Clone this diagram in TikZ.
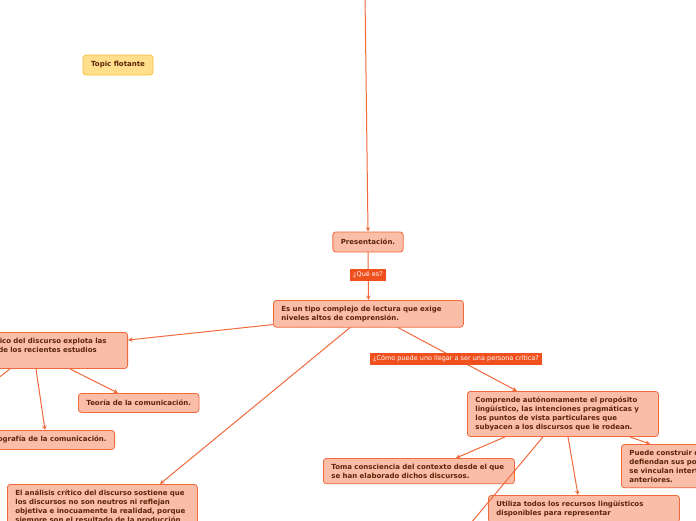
\documentclass[tikz,border=0pt]{standalone}
\usepackage{fontspec}
\setmainfont{DejaVu Sans}
\definecolor{borde}{HTML}{F26A3C}
\definecolor{relleno}{HTML}{F9BDA8}
\definecolor{tinta}{HTML}{5A2608}
\definecolor{rotulofondo}{HTML}{F0501E}
\definecolor{amarillo}{HTML}{FFDF8C}
\definecolor{amarilloborde}{HTML}{F5C040}
\begin{document}
\begin{tikzpicture}[x=1pt,y=-1pt,line join=round,line cap=round,>=stealth,
  idea/.style={draw=borde,fill=relleno,rounded corners=3pt,line width=0.8pt,
    text=tinta,font=\bfseries\fontsize{7}{9}\selectfont,align=left,
    inner xsep=8pt,inner ysep=5.5pt,text width=175pt},
  tema/.style={draw=borde,fill=relleno,rounded corners=3pt,line width=0.8pt,
    text=tinta,font=\bfseries\fontsize{7}{9}\selectfont,
    inner xsep=8pt,minimum height=19pt},
  rotulo/.style={fill=rotulofondo,text=white,font=\fontsize{6.5}{7}\selectfont,
    inner xsep=3pt,inner ysep=2.5pt},
  flecha/.style={draw=borde,line width=1pt}]
\clip (0,0) rectangle (696,520);
\fill[white] (0,0) rectangle (696,520);
\path
(365,-5) coordinate (arriba)
(440,560) coordinate (fuera)
(-30,400) coordinate (fuera2)
;
% nodos
\node[tema,minimum width=70pt,minimum height=20pt] (pres) at (368,242) {Presentación.};
\node[idea,anchor=north west,text width=174pt] (tipo) at (273,300)
  {Es un tipo complejo de lectura que exige\\niveles altos de comprensión.};
\node[idea,anchor=north east] (explota) at (128,332)
  {El análisis crítico del discurso explota las\\aportaciones de los recientes estudios\\lingüísticos.};
\node[tema,anchor=north west] (teoria) at (78,393) {Teoría de la comunicación.};
\node[tema,anchor=north east] (etno) at (115,430) {Etnografía de la comunicación.};
\node[idea,anchor=north west,text width=174pt] (sostiene) at (7,484)
  {El análisis crítico del discurso sostiene que\\los discursos no son neutros ni reflejan\\objetiva e inocuamente la realidad, porque\\siempre son el resultado de la producción};
\node[idea,anchor=north west] (comprende) at (467,391)
  {Comprende autónomamente el propósito\\lingüístico, las intenciones pragmáticas y\\los puntos de vista particulares que\\subyacen a los discursos que le rodean.};
\node[idea,anchor=north west] (toma) at (323,458)
  {Toma consciencia del contexto desde el que\\se han elaborado dichos discursos.};
\node[idea,anchor=north west] (utiliza) at (488,495)
  {Utiliza todos los recursos lingüísticos\\disponibles para representar};
\node[idea,anchor=north west] (puede) at (621,444)
  {Puede construir discursos que\\defiendan sus posturas y que\\se vinculan intertextualmente con los\\anteriores.};
\node[tema,draw=amarilloborde,fill=amarillo,minimum width=70pt,minimum height=20pt] (flotante) at (118,65) {Topic flotante};
% conectores
\draw[flecha,->] (arriba) -- (pres.north);
\draw[flecha,->] (pres.south) -- (tipo.north);
\draw[flecha,->] ([yshift=3pt]tipo.south west) -- ([yshift=-8pt]explota.north east);
\draw[flecha] ([xshift=-118pt]explota.south east) -- (fuera2);
\draw[flecha,->] ([xshift=-92pt]explota.south east) -- ([xshift=-70pt]etno.north east);
\draw[flecha,->] ([xshift=-58pt]explota.south east) -- ([xshift=40pt]teoria.north west);
\draw[flecha,->] ([xshift=77pt]tipo.south west) -- ([xshift=153pt]sostiene.north west);
\draw[flecha,->] ([xshift=125pt]tipo.south west) -- ([xshift=50pt]comprende.north west);
\draw[flecha,->] ([xshift=38pt]comprende.south west) -- ([xshift=133pt]toma.north west);
\draw[flecha] ([xshift=76pt]comprende.south west) -- (fuera);
\draw[flecha,->] ([xshift=101pt]comprende.south west) -- ([xshift=90pt]utiliza.north west);
\draw[flecha,->] ([xshift=163pt]comprende.south west) -- ([xshift=29pt]puede.north west);
% rotulos
\node[rotulo] (que) at (368,275) {¿Qué es?};
\node[rotulo] (como) at (456,359) {¿Cómo puede uno llegar a ser una persona crítica?};
\end{tikzpicture}
\end{document}
